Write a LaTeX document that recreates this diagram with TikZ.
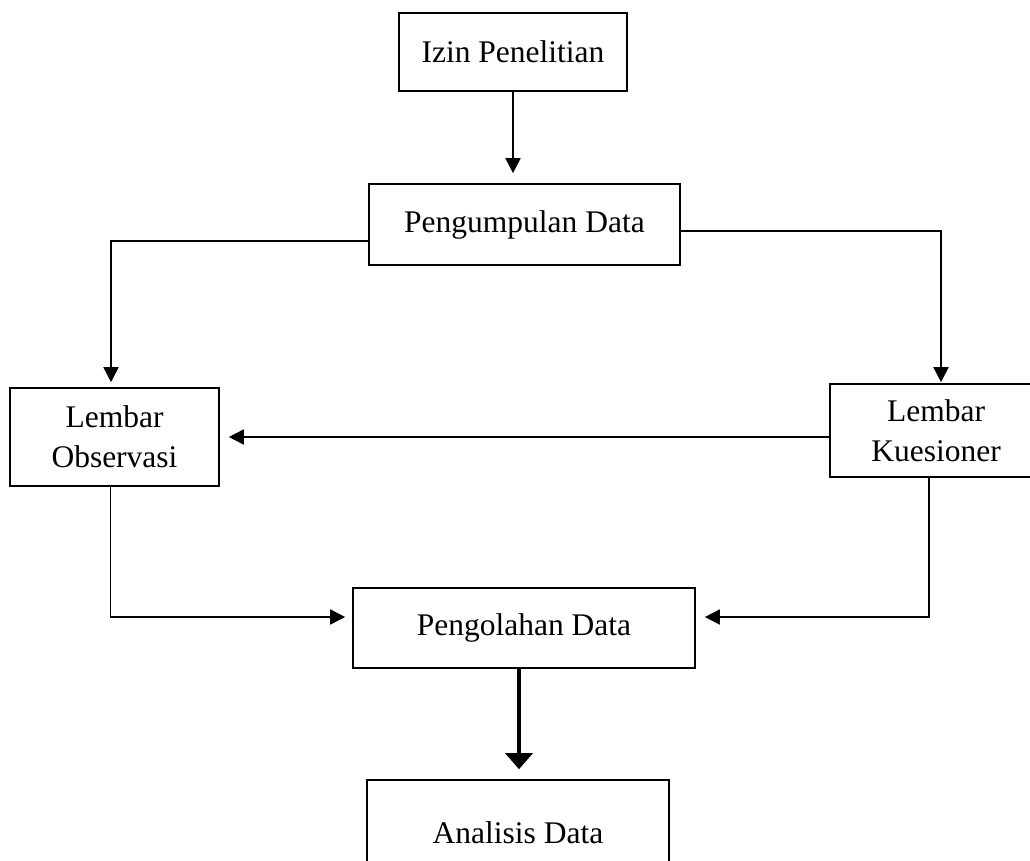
\documentclass[tikz,border=0pt]{standalone}
\usepackage{fontspec}
\setmainfont{Liberation Serif}
\usetikzlibrary{arrows.meta}
\usetikzlibrary{calc}

\begin{document}
\begin{tikzpicture}[x=1pt,y=-1pt,>={Triangle[length=15pt,width=15pt]},
  box/.style={draw,line width=1.6pt,inner sep=0pt,align=center,
    font=\fontsize{31.5}{40}\selectfont},
  link/.style={->,line width=1.6pt},
  thicklink/.style={->,line width=3.5pt,>={Triangle[length=16pt,width=27pt]}}]

  \useasboundingbox (0,0) rectangle (1030,861);

  \node[box,minimum width=228pt,minimum height=78pt]  (izin)        at (513,52)     {Izin Penelitian};
  \node[box,minimum width=311pt,minimum height=81pt]  (pengumpulan) at (524.5,224.5) {Pengumpulan Data};
  \node[box,minimum width=209pt,minimum height=98pt]  (observasi)   at (114.5,437)  {Lembar\\Observasi};
  \node[box,minimum width=212pt,minimum height=93pt]  (kuesioner)   at (936,430.5)  {Lembar\\Kuesioner};
  \node[box,minimum width=342pt,minimum height=80pt]  (pengolahan)  at (524,628)    {Pengolahan Data};
  \node[box,minimum width=302pt,minimum height=106pt] (analisis)    at (518,833)    {Analisis Data};

  \draw[link,shorten >=10pt] (izin.south) -- (izin.south |- pengumpulan.north);
  \draw[link,shorten >=5pt]  ($(pengumpulan.west)+(0,16.5)$) -| ([xshift=-3.5pt]observasi.north);
  \draw[link,shorten >=1pt]  ($(pengumpulan.east)+(0,6.5)$) -| ([xshift=5pt]kuesioner.north);
  \draw[link,shorten >=9pt]  (kuesioner.west |- observasi.east) -- (observasi.east);
  \draw[link,shorten >=7pt]  ([xshift=-4pt]observasi.south) |- ($(pengolahan.west)+(0,-11)$);
  \draw[link,shorten >=9pt]  ([xshift=-7pt]kuesioner.south) |- ($(pengolahan.east)+(0,-11)$);
  \draw[thicklink,shorten >=10pt] ([xshift=-5pt]pengolahan.south) -- ([xshift=1pt]analisis.north);
\end{tikzpicture}
\end{document}
